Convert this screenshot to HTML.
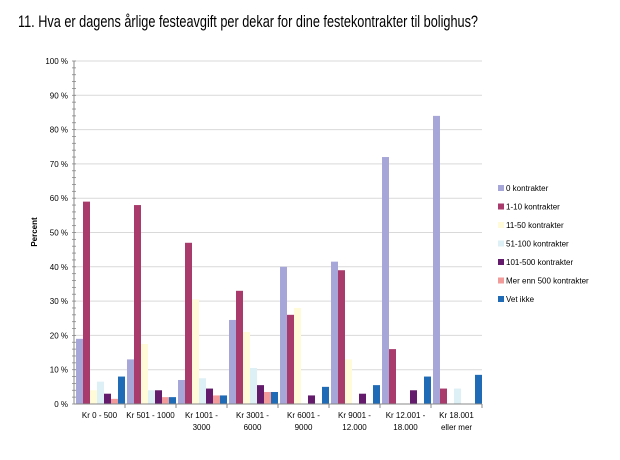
<!DOCTYPE html>
<html><head><meta charset="utf-8"><style>
body{margin:0;background:#fff;}
svg{display:block;font-family:"Liberation Sans",sans-serif;}
</style></head><body>
<svg id="chart" width="620" height="460" viewBox="0 0 620 460">
<text x="18" y="27" font-size="17" textLength="460" lengthAdjust="spacingAndGlyphs" fill="#000">11. Hva er dagens årlige festeavgift per dekar for dine festekontrakter til bolighus?</text>
<text transform="translate(37,232) rotate(-90)" text-anchor="middle" font-size="8" font-weight="bold">Percent</text>
<g id="grid"></g><g id="bars"></g><g id="axes"></g><g id="legend"></g>
</svg>
<script>
const categories=[["Kr 0 - 500"],["Kr 501 - 1000"],["Kr 1001 -","3000"],["Kr 3001 -","6000"],["Kr 6001 -","9000"],["Kr 9001 -","12.000"],["Kr 12.001 -","18.000"],["Kr 18.001","eller mer"]];
const seriesNames=["0 kontrakter","1-10 kontrakter","11-50 kontrakter","51-100 kontrakter","101-500 kontrakter","Mer enn 500 kontrakter","Vet ikke"];
const s0=[19,13,7,24.5,40,41.5,72,84];
const s1=[59,58,47,33,26,39,16,4.5];
const s2=[4,17.5,30.5,21,28,13,0,0];
const s3=[6.5,4,7.5,10.5,0,0,0,4.5];
const s4=[3,4,4.5,5.5,2.5,3,4,0];
const s5=[1.5,2,2.5,3.5,0,0,0,0];
const s6=[8,2,2.5,3.5,5,5.5,8,8.5];
const yTicks=[0,10,20,30,40,50,60,70,80,90,100];
const series=[s0,s1,s2,s3,s4,s5,s6];
const colors=["#a6a6d8","#a93a6c","#fffad8","#dcf0f6","#641b6b","#f29b9b","#1f6bb5"];
const NS="http://www.w3.org/2000/svg";
const X0=74,X1=482,Y0=404,Y1=61;
const gw=(X1-X0)/categories.length;
const y=v=>Y0-(v/100)*(Y0-Y1);
function mk(t,a,p){const e=document.createElementNS(NS,t);for(const k in a)e.setAttribute(k,a[k]);p.appendChild(e);return e;}
const grid=document.getElementById('grid'),bars=document.getElementById('bars'),axes=document.getElementById('axes'),legend=document.getElementById('legend');
yTicks.forEach(t=>{
 if(t>0){const l=mk('line',{x1:X0,x2:X1,y1:y(t),y2:y(t),stroke:'#d9d9d9','stroke-width':1},grid);
 
 }
 const tx=mk('text',{x:X0-6,y:y(t)+3,'text-anchor':'end','font-size':8},axes);tx.textContent=t+' %';
 
 
});
for(let v=0;v<=100;v+=2){mk('line',{x1:X0-2,x2:X0+2,y1:y(v),y2:y(v),stroke:'#888','stroke-width':0.8},axes);}
const ya=mk('line',{x1:X0,x2:X0,y1:Y1,y2:Y0,stroke:'#888'},axes);


const xa=mk('line',{x1:X0,x2:X1,y1:Y0,y2:Y0,stroke:'#888'},axes);


const bw=7;
categories.forEach((c,i)=>{
 const gx=X0+i*gw;
 mk('line',{x1:gx+gw,x2:gx+gw,y1:Y0,y2:Y0+4,stroke:'#888'},axes);
 c.forEach((ln,j)=>{const t=mk('text',{x:gx+gw/2,y:Y0+14+j*12,'text-anchor':'middle','font-size':8},axes);t.textContent=ln;
 
 });
 series.forEach((s,k)=>{const v=s[i];if(v<=0)return;
  const r=mk('rect',{x:gx+2+k*bw,y:y(v),width:bw,height:Y0-y(v),fill:colors[k]},bars);
  
  });
});
seriesNames.forEach((n,k)=>{
 const yy=188+k*18.5;
 const g=mk('g',{},legend);
 
 
 mk('rect',{x:498,y:yy-3,width:6,height:6,fill:colors[k]},g);
 const t=mk('text',{x:506,y:yy+3,'font-size':8},g);t.textContent=n;
});
</script>
</body></html>
